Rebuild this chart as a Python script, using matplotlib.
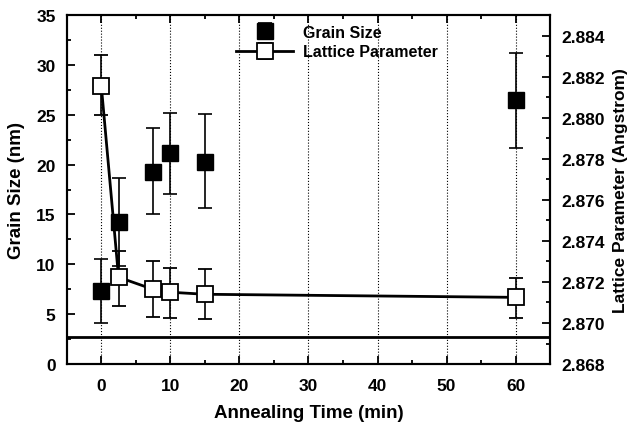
import matplotlib.pyplot as plt
from matplotlib.ticker import MultipleLocator

plt.rcParams['font.family'] = ['Liberation Sans', 'DejaVu Sans']
plt.rcParams['font.weight'] = 'bold'

# annealing time (min)
time = [0, 2.5, 7.5, 10, 15, 60]

# grain size (nm) with error bar ends
grain = [7.3, 14.2, 19.3, 21.2, 20.3, 26.5]
grain_lo = [4.1, 9.8, 15.0, 17.1, 15.6, 21.7]
grain_hi = [10.5, 18.7, 23.7, 25.2, 25.1, 31.2]

# lattice parameter (Angstrom) with error bar ends
lattice = [2.88155, 2.87223, 2.87164, 2.8715, 2.8714, 2.87125]
lattice_lo = [2.88014, 2.87082, 2.87028, 2.87024, 2.87019, 2.87024]
lattice_hi = [2.88306, 2.87349, 2.8730, 2.87266, 2.87262, 2.87218]

bulk_lattice = 2.8693

fig = plt.figure(figsize=(6.36, 4.27), dpi=100)
ax = fig.add_axes([0.105, 0.145, 0.76, 0.8175])
ax2 = ax.twinx()

g_err = [[g - lo for g, lo in zip(grain, grain_lo)],
         [hi - g for g, hi in zip(grain, grain_hi)]]
l_err = [[v - lo for v, lo in zip(lattice, lattice_lo)],
         [hi - v for v, hi in zip(lattice, lattice_hi)]]

ax.errorbar(time, grain, yerr=g_err, fmt='s', color='black', ms=11,
            mfc='black', mec='black', ecolor='black', elinewidth=1.2,
            capsize=5, capthick=1.2, label='Grain Size', zorder=3)
ax2.errorbar(time, lattice, yerr=l_err, fmt='-s', color='black', lw=2,
             ms=11, mfc='white', mec='black', mew=1.3, ecolor='black',
             elinewidth=1.2, capsize=5, capthick=1.2,
             label='Lattice Parameter', zorder=3)
ax2.axhline(bulk_lattice, color='black', lw=2)

ax.set_xlim(-5, 65)
ax.set_ylim(0, 35)
ax2.set_ylim(2.868, 2.885)

ax.xaxis.set_major_locator(MultipleLocator(10))
ax.xaxis.set_minor_locator(MultipleLocator(5))
ax.yaxis.set_major_locator(MultipleLocator(5))
ax.yaxis.set_minor_locator(MultipleLocator(2.5))
ax2.yaxis.set_major_locator(MultipleLocator(0.002))
ax2.yaxis.set_minor_locator(MultipleLocator(0.001))
ax2.yaxis.set_major_formatter(plt.FormatStrFormatter('%.3f'))

ax.grid(axis='x', which='major', linestyle=':', color='black', lw=0.8)

ax.tick_params(axis='both', which='both', direction='in', top=True,
               labelsize=12.5, width=1.3)
ax.tick_params(axis='x', which='major', pad=10)
ax.tick_params(axis='y', which='major', pad=8)
ax.tick_params(which='major', length=6)
ax.tick_params(which='minor', length=3)
ax2.tick_params(axis='y', which='both', direction='in', labelsize=12.5,
                width=1.3, pad=8)
ax2.tick_params(which='major', length=6)
ax2.tick_params(which='minor', length=3)

for a in (ax, ax2):
    for s in a.spines.values():
        s.set_linewidth(1.5)

ax.set_xlabel('Annealing Time (min)', fontsize=13.5, fontweight='bold',
              labelpad=8)
ax.set_ylabel('Grain Size (nm)', fontsize=13.5, fontweight='bold', labelpad=8)
ax2.set_ylabel('Lattice Parameter (Angstrom)', fontsize=12.5,
               fontweight='bold', labelpad=6)

h1, l1 = ax.get_legend_handles_labels()
h2, l2 = ax2.get_legend_handles_labels()
ax2.legend(h1 + h2, l1 + l2, loc='upper left', bbox_to_anchor=(0.33, 1.0),
           frameon=False, fontsize=11.5, handlelength=3.6, handletextpad=0.6,
           borderaxespad=0.2, labelspacing=0.3)

fig.savefig('out.png', dpi=100)
